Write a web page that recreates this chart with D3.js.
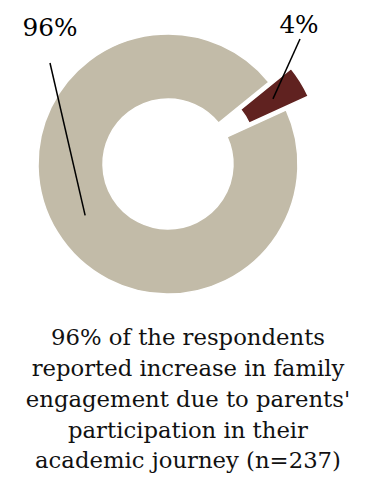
<!DOCTYPE html>
<html>
<head>
<meta charset="utf-8">
<script src="https://cdn.jsdelivr.net/npm/d3@7"></script>
<style>
  html, body { margin: 0; padding: 0; background: #fff; }
  svg { display: block; }
</style>
</head>
<body>
<div id="chart"></div>
<script>
// Donut: share of respondents reporting increased family engagement
const categories = ['Increase', 'No increase'];
const values = [96, 4];
const labels = ['96%', '4%'];
const captionLines = [
    '96% of the respondents',
    'reported increase in family',
    "engagement due to parents'",
    'participation in their',
    'academic journey (n=237)'
];

const W = 377, H = 480;
const cx = 168, cy = 164;
const outerR = 130, innerR = 65;
const explode = 26;
const colors = ['#C2BBA8', '#602220'];
const serif = 'DejaVu Serif, serif';

const svg = d3.select('#chart').append('svg')
    .attr('width', W)
    .attr('height', H);

const g = svg.append('g').attr('transform', `translate(${cx},${cy})`);

// small slice starts at ~51deg, big slice wraps around the rest
const startA = 51 * Math.PI / 180;
const pie = d3.pie().sort(null)
    .startAngle(startA - 0.96 * 2 * Math.PI)
    .endAngle(startA + 0.04 * 2 * Math.PI);
const arcs = pie(values);

const arc = d3.arc().innerRadius(innerR).outerRadius(outerR);

function offset(d, i) {
    if (i === 0) return [0, 0];
    const mid = (d.startAngle + d.endAngle) / 2;
    return [Math.sin(mid) * explode, -Math.cos(mid) * explode];
}

g.selectAll('path.slice')
    .data(arcs)
    .enter()
    .append('path')
    .attr('class', 'slice')
    .attr('d', arc)
    .attr('transform', (d, i) => `translate(${offset(d, i)})`)
    .attr('fill', (d, i) => colors[i])
    .attr('stroke', '#fff')
    .attr('stroke-width', 1.5);

// labels with leader lines to slice centroids
const labelPos = [[50, 36], [299, 33]];
const lineStart = [[50, 63], [300, 39]];

arcs.forEach((d, i) => {
    const c = arc.centroid(d);
    const o = offset(d, i);
    svg.append('line')
        .attr('x1', lineStart[i][0])
        .attr('y1', lineStart[i][1])
        .attr('x2', cx + c[0] + o[0])
        .attr('y2', cy + c[1] + o[1])
        .attr('stroke', '#000')
        .attr('stroke-width', 1.5);
    svg.append('text')
        .attr('class', 'lbl')
        .attr('x', labelPos[i][0])
        .attr('y', labelPos[i][1])
        .attr('text-anchor', 'middle')
        .attr('font-family', serif)
        .attr('font-size', 22)
        .attr('fill', '#000')
        .text(labels[i]);
});
// "96%" spans ~55px in the reference
const lbl0 = svg.select('text.lbl');
const lfs = 22 * 55 / lbl0.node().getComputedTextLength();
svg.selectAll('text.lbl').attr('font-size', lfs);

// caption, sized so the first line spans ~274px
const cap = svg.append('g');
const lineYs = [345, 376, 407, 438, 468];
const texts = cap.selectAll('text')
    .data(captionLines)
    .enter()
    .append('text')
    .attr('x', 188)
    .attr('y', (d, i) => lineYs[i])
    .attr('text-anchor', 'middle')
    .attr('font-family', serif)
    .attr('font-size', 20)
    .attr('fill', '#111')
    .text(d => d);
const w0 = texts.node().getComputedTextLength();
const fs = 20 * 274 / w0;
texts.attr('font-size', fs);
</script>
</body>
</html>
